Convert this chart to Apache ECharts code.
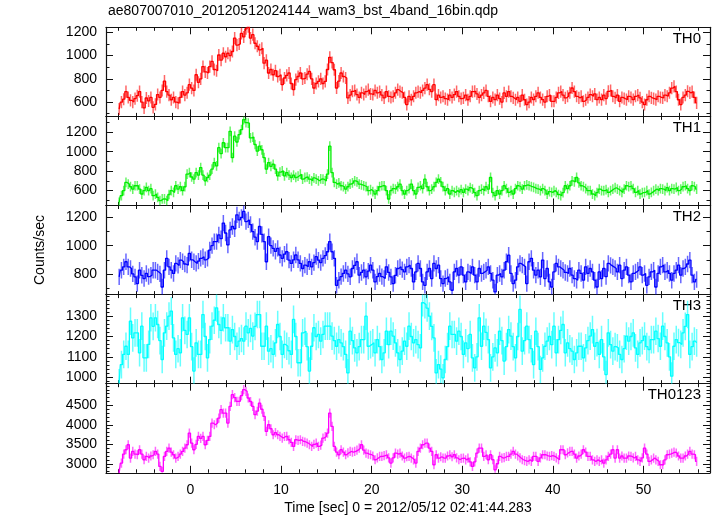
<!DOCTYPE html>
<html><head><meta charset="utf-8">
<script src="https://cdn.jsdelivr.net/npm/echarts@6/dist/echarts.min.js"></script>
<style>html,body{margin:0;padding:0;background:#fff}#c{width:717px;height:516px}</style>
</head><body><div id="c"></div><script>
const titleText = 'ae807007010_20120512024144_wam3_bst_4band_16bin.qdp';
const xTitle = 'Time [sec] 0 = 2012/05/12 02:41:44.283';
const yTitle = 'Counts/sec';
const bandNames = ['TH0', 'TH1', 'TH2', 'TH3', 'TH0123'];
const bandColors = ['#ff0000', '#00ee00', '#0000ff', '#00ffff', '#ff00ff'];
const tStart = -7.875, binWidth = 0.25;

const th0 = [
540,600,625,690, 640,615,600,630, 655,690,600,550, 635,610,640,555,
580,665,640,700, 780,690,660,620, 640,600,590,640, 690,660,680,750,
720,700,835,770, 800,905,860,850, 905,950,880,870, 1005,960,1020,990,
1020,1000,1035,1150, 1090,1100,1190,1160, 1230,1248,1150,1180, 1106,1080,1049,1063,
935,960,850,880, 835,870,820,835, 750,807,830,850, 760,707,793,820,
850,800,807,840, 864,800,721,760, 778,800,760,778, 880,985,940,878,
721,780,850,820, 807,636,660,693, 700,665,640,680, 665,690,707,670,
665,700,680,690, 660,636,690,650, 640,650,680,707, 690,680,640,579,
650,620,650,680, 690,680,700,720, 750,710,690,750, 621,660,640,650,
630,621,660,640, 664,690,650,630, 636,660,620,650, 690,693,670,640,
660,679,700,650, 607,640,621,660, 630,600,679,650, 690,650,636,620,
640,607,660,620, 579,600,640,621, 650,680,640,621, 600,650,660,607,
607,640,679,690, 660,636,650,680, 721,690,650,636, 650,607,620,640,
664,650,670,621, 640,621,660,630, 693,700,650,636, 660,607,640,630,
621,650,640,621, 650,660,636,600, 579,620,650,636, 630,621,650,640,
636,660,650,680, 720,735,690,620, 579,640,660,693, 679,690,640,593
];
const th1 = [
480,548,600,684, 667,640,616,650, 650,616,565,600, 633,599,620,548,
565,530,497,514, 514,497,560,599, 582,650,616,640, 599,640,769,786,
740,718,786,760, 837,760,701,735, 760,820,888,854, 1041,980,1092,1041,
1041,1210,939,1160, 1100,1176,1227,1329, 1300,1295,1142,1150, 1074,1006,1057,1020,
939,820,888,850, 871,820,752,790, 803,752,786,760, 735,760,735,750,
769,718,735,740, 718,701,730,718, 701,720,718,700, 769,1057,786,684,
667,680,650,640, 616,640,667,680, 701,690,667,660, 650,640,599,610,
590,565,600,640, 650,650,600,514, 599,620,616,640, 667,600,565,600,
620,667,600,565, 633,650,620,718, 640,599,616,640, 684,718,690,640,
599,620,565,600, 582,600,582,610, 582,616,600,630, 616,580,548,600,
616,600,640,616, 735,580,548,600, 565,600,650,620, 582,600,565,620,
650,640,616,650, 660,650,640,633, 620,616,599,620, 600,565,590,582,
600,582,560,548, 580,650,620,650, 701,690,735,680, 650,640,620,599,
600,565,548,580, 616,600,599,610, 582,600,616,630, 616,600,582,616,
650,640,650,620, 582,600,565,580, 582,600,565,582, 600,616,599,620,
616,600,630,599, 620,616,633,599, 616,640,650,620, 599,650,640,616
];
const th2 = [
779,826,850,886, 850,838,800,779, 731,826,790,767, 803,780,791,826,
826,814,800,707, 826,910,850,826, 803,874,860,898, 886,870,862,945,
900,886,874,890, 910,922,900,910, 969,1000,1029,1029, 1076,1050,1160,1090,
1005,1112,1136,1120, 1219,1183,1200,1243, 1171,1183,1150,1100, 1060,1029,1136,1080,
1029,886,1064,1000, 981,960,981,934, 910,940,957,898, 874,900,934,900,
874,838,862,850, 886,850,880,922, 898,880,910,930, 957,1029,957,910,
719,755,780,803, 826,800,779,838, 860,886,791,810, 826,779,820,862,
826,743,780,803, 780,767,850,810, 779,731,790,838, 850,830,814,850,
862,838,743,814, 874,838,743,719, 814,838,767,874, 838,862,767,731,
767,779,743,684, 814,838,791,850, 791,743,814,803, 850,791,743,838,
803,814,826,850, 803,755,672,791, 803,779,826,886, 933,803,731,755,
850,874,862,850, 731,886,910,826, 791,826,779,898, 767,838,743,707,
814,874,850,838, 826,810,803,838, 791,767,755,826, 803,755,850,803,
838,814,755,707, 814,767,838,780, 874,860,850,838, 814,862,767,826,
850,791,743,803, 814,826,850,791, 803,719,779,814, 826,707,803,850,
862,814,826,803, 755,803,826,862, 791,838,850,870, 898,791,743,760
];
const th3 = [
972,1062,1112,1152, 1112,1275,1193,1218, 1218,1120,1251,1095, 1095,1161,1292,1250,
1292,1259,1180,1087, 1218,1251,1300,1325, 1193,1112,1140,1120, 1292,1230,1210,1292,
1150,1030,1169,1112, 1112,1308,1200,1095, 1185,1251,1280,1341, 1259,1230,1292,1243,
1243,1177,1234,1200, 1152,1177,1190,1177, 1251,1218,1240,1202, 1250,1308,1308,1152,
1152,1251,1128,1140, 1112,1169,1259,1200, 1112,1161,1152,1130, 1112,1284,1200,1071,
1071,1218,1226,1150, 1030,1152,1243,1200, 1210,1177,1210,1251, 1251,1251,1202,1180,
1152,1185,1169,1150, 1112,1021,1226,1180, 1144,1120,1150,1185, 1185,1300,1152,1160,
1169,1120,1185,1150, 1087,1120,1226,1160, 1226,1202,1169,1120, 1087,1128,1177,1152,
1251,1200,1169,1185, 1160,1144,1366,1357, 1340,1300,1250,1193, 1021,1062,1040,997,
1087,1150,1251,1210, 1210,1177,1226,1200, 1112,1169,1140,1210, 1095,1046,1100,1292,
1152,1251,1220,1185, 1046,1100,1144,1120, 1226,1180,1079,1150, 1234,1202,1150,1095,
1200,1333,1128,1180, 1251,1185,1140,1062, 1226,1150,1038,1095, 1152,1177,1200,1160,
1251,1120,1185,1230, 1259,1120,1169,1140, 1128,1087,1120,1152, 1152,1095,1144,1180,
1202,1234,1152,1170, 1112,1185,1100,1013, 1218,1160,1128,1150, 1144,1112,1087,1140,
1202,1177,1200,1218, 1144,1112,1169,1180, 1202,1150,1136,1185, 1185,1226,1190,1152,
1251,1200,1169,1100, 1005,1152,1185,1170, 1161,1218,1250,1308, 1112,1150,1177,1169
];
const th0123 = [
2760,3017,3250,3360, 3489,3146,3317,3250, 3232,3360,3250,3103, 3189,3146,3200,3232,
3317,3250,2932,2803, 3189,3317,3403,3300, 3232,3146,3189,3250, 3317,3400,3489,3789,
3532,3360,3500,3703, 3650,3703,3489,3600, 3703,4046,4003,4050, 4174,4389,4300,4303,
4046,4474,4774,4700, 4603,4603,4750,4903, 4860,4689,4600,4474, 4260,4350,4560,4400,
4217,3832,4003,3900, 3746,3800,3746,3703, 3660,3700,3703,3617, 3550,3446,3617,3600,
3617,3574,3560,3532, 3489,3446,3500,3532, 3446,3480,3660,3700, 3789,4303,3960,3446,
3300,3232,3360,3300, 3232,3280,3317,3300, 3317,3350,3400,3489, 3350,3274,3250,3232,
3200,3103,3150,3189, 3189,3210,3232,3150, 3017,3150,3274,3250, 3274,3200,3146,3180,
3190,3146,3100,3017, 3317,3400,3489,3532, 3532,3400,3317,2975, 3232,3146,3180,3146,
3146,3200,3232,3180, 3232,3150,3103,3140, 3146,3100,3146,3050, 2932,3050,3274,3403,
3403,3189,3232,3103, 3232,3103,2846,3000, 3189,3146,3160,3189, 3189,3250,3317,3250,
3200,3150,3103,3080, 3060,3100,3060,3189, 3189,3060,3150,3232, 3232,3200,3189,3210,
3189,3150,3103,3360, 3360,3232,3280,3317, 3317,3250,3146,3200, 3250,3360,3300,3189,
3189,3100,3060,3100, 3060,3100,3017,3100, 3189,3250,3360,3146, 3360,3146,3200,3146,
3146,3200,3189,3150, 3189,3100,3060,3150, 3403,3250,3060,3100, 3146,3100,3060,2975,
2975,3100,3232,3250, 3274,3300,3274,3200, 3146,3146,3200,3250, 3317,3250,3232,3060
];
const bandValues = [th0, th1, th2, th3, th0123];
const bandErrors = [52, 50, 58, 68, 118];

const xRange = [-9.33, 57.35];
const xMajorTicks = [0, 10, 20, 30, 40, 50];
const xMinorStep = 2;
const yRanges = [[477, 1243], [447, 1363], [653, 1285], [968, 1406], [2768, 5057]];
const yMajorTicks = [[600, 800, 1000, 1200], [600, 800, 1000, 1200], [800, 1000, 1200], [1000, 1100, 1200, 1300], [3000, 3500, 4000, 4500]];
const yMinorSteps = [100, 100, 100, 20, 100];

const FONT = "'Liberation Sans', Arial, Helvetica, sans-serif";
const PANEL_TOP = 27.3, PANEL_H = 89.1, LEFT = 106, RIGHT = 7;

function stepValues(lo, hi, step) {
  const out = [];
  for (let v = Math.ceil(lo / step) * step; v <= hi; v += step) out.push(Math.round(v * 1000) / 1000);
  return out;
}
const xMinorTicks = stepValues(xRange[0], xRange[1], xMinorStep);
const plain = v => String(v);

const grids = [], xAxes = [], yAxes = [], series = [], graphics = [];
const axisLineStyle = { color: '#111', width: 1.2 };
const tickStyle = { color: '#111', width: 1 };

bandNames.forEach((name, i) => {
  const top = PANEL_TOP + i * PANEL_H;
  grids.push({ left: LEFT, right: RIGHT, top: top, height: PANEL_H, containLabel: false });
  const xBase = { gridIndex: i, type: 'value', min: xRange[0], max: xRange[1], splitLine: { show: false } };
  xAxes.push(Object.assign({}, xBase, {
    position: 'bottom',
    axisLine: { show: true, onZero: false, lineStyle: axisLineStyle },
    axisTick: { show: true, inside: true, length: 7, customValues: xMajorTicks, lineStyle: tickStyle },
    axisLabel: { show: i === bandNames.length - 1, customValues: xMajorTicks, formatter: plain, color: '#000', fontSize: 14, fontFamily: FONT, margin: 10 }
  }));
  xAxes.push(Object.assign({}, xBase, {
    position: 'bottom',
    axisLine: { show: false, onZero: false },
    axisTick: { show: true, inside: true, length: 3.5, customValues: xMinorTicks, lineStyle: tickStyle },
    axisLabel: { show: false }
  }));
  xAxes.push(Object.assign({}, xBase, {
    position: 'top',
    axisLine: { show: true, onZero: false, lineStyle: axisLineStyle },
    axisTick: { show: true, inside: true, length: 7, customValues: xMajorTicks, lineStyle: tickStyle },
    axisLabel: { show: false }
  }));
  xAxes.push(Object.assign({}, xBase, {
    position: 'top',
    axisLine: { show: false, onZero: false },
    axisTick: { show: true, inside: true, length: 3.5, customValues: xMinorTicks, lineStyle: tickStyle },
    axisLabel: { show: false }
  }));

  const yr = yRanges[i];
  const yMinor = stepValues(yr[0], yr[1], yMinorSteps[i]);
  const yBase = { gridIndex: i, type: 'value', min: yr[0], max: yr[1], splitLine: { show: false } };
  yAxes.push(Object.assign({}, yBase, {
    position: 'left',
    axisLine: { show: true, onZero: false, lineStyle: axisLineStyle },
    axisTick: { show: true, inside: true, length: 7, customValues: yMajorTicks[i], lineStyle: tickStyle },
    axisLabel: { show: true, customValues: yMajorTicks[i], formatter: plain, color: '#000', fontSize: 14, fontFamily: FONT, margin: 9 }
  }));
  yAxes.push(Object.assign({}, yBase, {
    position: 'left',
    axisLine: { show: false, onZero: false },
    axisTick: { show: true, inside: true, length: 3.5, customValues: yMinor, lineStyle: tickStyle },
    axisLabel: { show: false }
  }));
  yAxes.push(Object.assign({}, yBase, {
    position: 'right',
    axisLine: { show: true, onZero: false, lineStyle: axisLineStyle },
    axisTick: { show: true, inside: true, length: 7, customValues: yMajorTicks[i], lineStyle: tickStyle },
    axisLabel: { show: false }
  }));
  yAxes.push(Object.assign({}, yBase, {
    position: 'right',
    axisLine: { show: false, onZero: false },
    axisTick: { show: true, inside: true, length: 3.5, customValues: yMinor, lineStyle: tickStyle },
    axisLabel: { show: false }
  }));

  const vals = bandValues[i];
  const err = bandErrors[i];
  const color = bandColors[i];
  const lineData = vals.map((v, k) => [tStart + k * binWidth, v]);
  const errData = vals.map((v, k) => [tStart + k * binWidth, v, err]);

  series.push({
    type: 'custom', xAxisIndex: 4 * i, yAxisIndex: 4 * i, clip: true, silent: true,
    data: errData, encode: { x: 0, y: 1 },
    renderItem: function (params, api) {
      const x = api.value(0), y = api.value(1), e = api.value(2);
      const p1 = api.coord([x, y - e]), p2 = api.coord([x, y + e]);
      return { type: 'line', shape: { x1: p1[0], y1: p1[1], x2: p2[0], y2: p2[1] },
        style: { stroke: color, lineWidth: 1.5, opacity: 0.6 } };
    }
  });
  series.push({
    type: 'line', xAxisIndex: 4 * i, yAxisIndex: 4 * i, step: 'middle', symbol: 'none',
    data: lineData, clip: true, silent: true,
    lineStyle: { color: color, width: 1.3 }
  });

  graphics.push({ type: 'text', right: RIGHT + 9, top: top + 4,
    style: { text: name, fill: '#000', font: '15px ' + FONT } });
});

graphics.push({ type: 'text', left: 108, top: 4, style: { text: titleText, fill: '#000', font: '14px ' + FONT } });
graphics.push({ type: 'text', x: 408, y: 508, style: { text: xTitle, fill: '#000', font: '14px ' + FONT, textAlign: 'center', textVerticalAlign: 'middle' } });
graphics.push({ type: 'text', x: 40, y: 250, rotation: Math.PI / 2, style: { text: yTitle, fill: '#000', font: '14px ' + FONT, textAlign: 'center', textVerticalAlign: 'middle' } });

const chart = echarts.init(document.getElementById('c'), null, { renderer: 'canvas' });
chart.setOption({
  animation: false,
  backgroundColor: '#fff',
  grid: grids, xAxis: xAxes, yAxis: yAxes, series: series, graphic: graphics
});
</script></body></html>
